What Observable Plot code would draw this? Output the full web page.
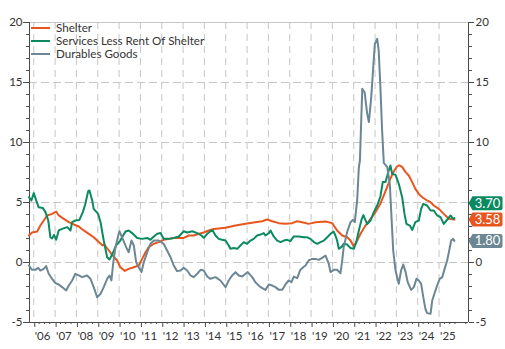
<!DOCTYPE html>
<html><head><meta charset="utf-8">
<script src="https://cdn.jsdelivr.net/npm/d3@7"></script>
<script src="https://cdn.jsdelivr.net/npm/@observablehq/plot@0.6"></script>
<style>
html,body{margin:0;padding:0;background:#fff;}
#wrap{position:relative;width:505px;height:349px;font-family:Lato,sans-serif;}
#legend{position:absolute;left:31px;top:21px;font-size:11.6px;color:#333;}
#legend div{display:flex;align-items:center;height:13.2px;}
#legend span.sw{display:inline-block;width:19px;height:2px;margin-right:6px;}
#legend span.tx{display:inline-block;line-height:13px;height:13px;}
</style></head><body>
<div id="wrap"><div id="chart"></div><div id="legend"></div></div>
<script>
// ---- data (decimal year, % y/y) ----
const seriesNames = ["Shelter", "Services Less Rent Of Shelter", "Durables Goods"];
const seriesColors = ["#e8561f", "#0b8a60", "#6c8794"];

const shelter = [
[2005.77,2.25],[2005.92,2.5],[2006.16,2.58],[2006.31,3.08],[2006.47,3.5],[2006.63,3.92],[2006.86,4.05],
[2007.05,4.25],[2007.17,3.92],[2007.41,3.64],[2007.64,3.36],[2007.88,3.17],[2008.11,3.0],[2008.34,2.67],
[2008.58,2.39],[2008.81,2.1],[2009.05,1.7],[2009.23,1.42],[2009.3,1.5],[2009.52,1.0],[2009.70,0.58],
[2009.91,0.17],[2010.06,-0.4],[2010.27,-0.7],[2010.45,-0.53],[2010.69,-0.39],[2010.92,-0.25],[2011.08,0.3],
[2011.20,0.72],[2011.39,1.28],[2011.63,1.56],[2011.86,1.7],[2012.09,1.89],[2012.33,1.97],[2012.56,2.05],
[2012.80,2.05],[2013.03,2.05],[2013.27,2.25],[2013.50,2.25],[2013.74,2.39],[2013.97,2.5],[2014.20,2.67],
[2014.44,2.8],[2014.99,2.89],[2015.46,3.08],[2015.93,3.22],[2016.39,3.36],[2016.71,3.44],[2016.94,3.58],
[2017.18,3.44],[2017.49,3.28],[2017.80,3.22],[2018.11,3.28],[2018.35,3.44],[2018.58,3.36],[2018.89,3.22],
[2019.21,3.36],[2019.68,3.42],[2019.99,3.28],[2020.22,2.67],[2020.46,2.25],[2020.69,2.1],[2020.85,1.83],
[2021.00,1.33],[2021.16,1.83],[2021.32,2.39],[2021.55,3.08],[2021.79,3.64],[2022.02,4.2],[2022.25,4.9],
[2022.41,5.6],[2022.57,6.3],[2022.72,7.0],[2022.88,7.6],[2023.03,8.0],[2023.13,8.1],[2023.27,7.97],
[2023.43,7.53],[2023.58,7.25],[2023.74,6.7],[2023.89,6.14],[2024.05,5.72],[2024.21,5.44],[2024.44,5.17],
[2024.60,5.03],[2024.75,4.75],[2024.99,4.47],[2025.22,4.05],[2025.46,3.64],[2025.72,3.58]
];

const servicesLessRent = [
[2005.77,5.44],[2005.89,5.17],[2006.0,5.78],[2006.11,5.2],[2006.23,4.6],[2006.42,4.55],[2006.55,4.2],
[2006.68,3.5],[2006.78,2.1],[2006.86,2.0],[2006.95,2.3],[2007.05,1.9],[2007.17,2.67],[2007.33,2.8],
[2007.57,2.95],[2007.72,2.67],[2007.80,3.36],[2007.95,3.5],[2008.14,3.55],[2008.30,4.2],[2008.42,4.9],
[2008.55,5.95],[2008.61,6.0],[2008.74,5.17],[2008.81,4.47],[2009.02,4.05],[2009.13,3.36],[2009.28,1.83],
[2009.44,0.44],[2009.55,0.25],[2009.70,0.75],[2009.86,1.42],[2010.06,1.83],[2010.14,2.1],[2010.30,2.58],
[2010.45,2.67],[2010.61,2.45],[2010.85,2.05],[2011.08,1.97],[2011.32,2.05],[2011.47,1.89],[2011.63,2.17],
[2011.79,2.39],[2011.94,2.45],[2012.09,1.97],[2012.33,1.97],[2012.56,2.05],[2012.80,2.17],[2013.03,2.6],
[2013.19,2.5],[2013.43,2.6],[2013.66,2.45],[2013.86,2.25],[2013.97,2.05],[2014.13,2.39],[2014.28,2.6],
[2014.39,2.67],[2014.52,2.25],[2014.67,1.97],[2014.83,1.89],[2014.99,1.83],[2015.14,1.42],[2015.22,1.14],
[2015.38,1.2],[2015.54,1.14],[2015.69,1.42],[2015.85,1.7],[2016.00,1.56],[2016.16,1.83],[2016.31,1.97],
[2016.47,2.25],[2016.63,2.33],[2016.78,2.45],[2016.86,2.25],[2017.02,2.45],[2017.10,2.67],[2017.25,2.17],
[2017.41,1.83],[2017.57,1.7],[2017.72,1.83],[2017.88,1.89],[2018.03,1.78],[2018.19,2.17],[2018.42,2.17],
[2018.66,2.1],[2018.82,2.1],[2018.97,1.97],[2019.13,1.7],[2019.29,1.56],[2019.44,1.7],[2019.60,1.83],
[2019.76,2.1],[2019.91,2.39],[2020.06,2.58],[2020.14,2.25],[2020.22,1.83],[2020.30,1.14],[2020.43,1.3],
[2020.53,1.56],[2020.69,1.5],[2020.85,1.2],[2021.00,1.14],[2021.12,1.7],[2021.24,2.67],[2021.37,3.6],
[2021.45,3.95],[2021.63,3.2],[2021.79,3.5],[2021.94,4.2],[2022.10,4.75],[2022.25,5.5],[2022.36,6.7],
[2022.49,6.7],[2022.64,7.67],[2022.72,8.08],[2022.80,7.4],[2022.96,7.3],[2023.11,6.56],[2023.27,5.44],
[2023.38,4.05],[2023.47,3.22],[2023.63,3.08],[2023.74,2.72],[2023.89,3.36],[2024.05,3.5],[2024.16,4.47],
[2024.26,4.89],[2024.44,4.75],[2024.60,4.33],[2024.75,4.33],[2024.91,3.92],[2025.07,3.78],[2025.22,3.22],
[2025.35,3.5],[2025.54,3.92],[2025.66,3.64],[2025.72,3.70]
];

const durables = [
[2005.77,-0.25],[2005.92,-0.61],[2006.08,-0.61],[2006.21,-0.44],[2006.31,-0.67],[2006.47,-0.53],[2006.58,-0.3],
[2006.70,-0.94],[2006.86,-1.36],[2007.02,-1.72],[2007.17,-1.83],[2007.33,-2.05],[2007.52,-2.33],[2007.64,-1.92],
[2007.80,-1.5],[2007.95,-0.94],[2008.11,-1.08],[2008.27,-1.22],[2008.50,-1.08],[2008.66,-1.36],[2008.81,-2.05],
[2008.97,-2.89],[2009.13,-2.61],[2009.28,-2.05],[2009.44,-1.36],[2009.55,-1.08],[2009.64,-1.5],[2009.72,-0.11],
[2009.83,1.28],[2009.98,2.39],[2010.02,2.6],[2010.17,1.97],[2010.33,1.28],[2010.45,0.86],[2010.58,1.83],
[2010.69,1.42],[2010.80,0.03],[2010.92,-0.39],[2011.05,-0.8],[2011.16,0.03],[2011.32,0.86],[2011.47,1.56],
[2011.63,1.83],[2011.86,1.83],[2012.09,1.56],[2012.25,1.0],[2012.41,0.44],[2012.56,-0.25],[2012.72,-0.72],
[2012.88,-0.67],[2013.03,-0.44],[2013.19,-0.67],[2013.35,-1.08],[2013.50,-1.22],[2013.66,-0.94],[2013.82,-0.61],
[2013.97,-0.67],[2014.13,-1.17],[2014.28,-1.36],[2014.52,-1.22],[2014.75,-1.5],[2014.99,-2.05],[2015.14,-1.5],
[2015.30,-1.08],[2015.46,-0.8],[2015.61,-1.08],[2015.77,-1.17],[2015.93,-0.94],[2016.03,-0.8],[2016.24,-1.22],
[2016.39,-1.64],[2016.63,-2.05],[2016.86,-2.28],[2017.02,-1.83],[2017.18,-1.92],[2017.33,-2.05],[2017.49,-2.28],
[2017.65,-2.28],[2017.80,-1.83],[2017.95,-1.5],[2018.08,-1.64],[2018.19,-1.17],[2018.35,-1.3],[2018.50,-0.6],
[2018.66,-0.35],[2018.74,-0.25],[2018.89,0.17],[2019.05,0.3],[2019.21,0.3],[2019.36,0.22],[2019.52,0.39],
[2019.68,0.58],[2019.83,-0.11],[2019.91,-0.8],[2020.06,-0.61],[2020.22,-0.61],[2020.38,-0.89],[2020.46,0.17],
[2020.53,1.28],[2020.69,2.53],[2020.85,3.36],[2020.96,3.55],[2021.05,3.36],[2021.16,5.17],[2021.24,7.94],
[2021.29,8.5],[2021.40,14.47],[2021.51,14.19],[2021.63,12.39],[2021.71,11.7],[2021.82,13.78],[2021.91,16.14],
[2021.99,18.22],[2022.10,18.64],[2022.17,17.67],[2022.25,14.6],[2022.33,11.0],[2022.41,8.3],[2022.57,7.94],
[2022.69,6.56],[2022.77,3.78],[2022.85,1.0],[2022.96,-0.67],[2023.11,-1.78],[2023.22,-0.67],[2023.32,-0.17],
[2023.43,-0.78],[2023.53,-1.64],[2023.69,-2.28],[2023.82,-2.05],[2023.94,-1.36],[2024.05,-1.5],[2024.16,-1.78],
[2024.26,-2.89],[2024.36,-3.86],[2024.44,-4.22],[2024.60,-4.28],[2024.68,-3.17],[2024.78,-2.61],[2024.91,-1.92],
[2025.03,-1.36],[2025.15,-1.22],[2025.26,-0.53],[2025.38,0.17],[2025.46,0.86],[2025.57,1.83],[2025.66,1.97],
[2025.72,1.80]
];

const latestValues = [3.58, 3.70, 1.80]; // Shelter, Services, Durables
const yTicks = [-5, 0, 5, 10, 15, 20];
const yTicksRightLabelled = [-5, 0, 10, 15, 20]; // the 5 is covered by the 3.70 tag in the reference
const yearTicks = d3.range(2006, 2026);
const xDomain = [2005.8, 2026.38];

// ---- build ----
const rows = [];
[shelter, servicesLessRent, durables].forEach((s, i) => s.forEach(([t, v]) => rows.push({t, v, name: seriesNames[i]})));

// end labels with simple collision avoidance (in data units)
const labels = latestValues.map((v, i) => ({name: seriesNames[i], value: v, color: seriesColors[i], ly: v}));
const sorted = [...labels].sort((a, b) => a.value - b.value);
for (let i = 1; i < sorted.length; i++) {
  if (sorted[i].ly - sorted[i - 1].ly < 1.35) sorted[i].ly = sorted[i - 1].ly + 1.35;
}

const tag = {
  draw(ctx) {
    const h = 7, r = 2;
    ctx.moveTo(0, 0);
    ctx.lineTo(4, -h);
    ctx.lineTo(34 - r, -h);
    ctx.quadraticCurveTo(34, -h, 34, -h + r);
    ctx.lineTo(34, h - r);
    ctx.quadraticCurveTo(34, h, 34 - r, h);
    ctx.lineTo(4, h);
    ctx.closePath();
  }
};

const minorY = d3.range(-5, 21).filter(d => d % 5 !== 0);
const minorX = d3.range(2006, 2026.3, 0.25).filter(d => d % 1 !== 0);
const fmtY = d => String(d);
const axisColor = "#4a4a4a";

const chart = Plot.plot({
  width: 505,
  height: 349,
  marginLeft: 29,
  marginRight: 37,
  marginTop: 22,
  marginBottom: 27,
  style: {fontFamily: "Lato, sans-serif", fontSize: "11.5px", color: "#333", background: "#fff"},
  x: {type: "linear", domain: xDomain},
  y: {domain: [-5, 20]},
  color: {domain: seriesNames, range: seriesColors},
  marks: [
    Plot.ruleX(yearTicks, {stroke: "#c6c6c6", strokeDasharray: "7,5", strokeWidth: 1}),
    Plot.ruleY([0, 5, 10, 15], {stroke: "#c6c6c6", strokeDasharray: "8,4", strokeWidth: 1}),
    Plot.ruleY([20], {stroke: "#c6c6c6", strokeWidth: 1}),
    Plot.ruleX([xDomain[0], xDomain[1]], {stroke: axisColor, strokeWidth: 1}),
    Plot.ruleY([-5], {stroke: axisColor, strokeWidth: 1}),
    // axes
    Plot.axisY(yTicks, {anchor: "left", tickSize: 6, tickPadding: 1, tickFormat: fmtY, color: "#333", stroke: axisColor, label: null}),
    Plot.axisY(minorY, {anchor: "left", tickSize: 3, text: null, stroke: axisColor, label: null}),
    Plot.axisY(yTicksRightLabelled, {anchor: "right", tickSize: 5, tickPadding: 2, tickFormat: fmtY, color: "#333", stroke: axisColor, label: null}),
    Plot.axisY([5], {anchor: "right", tickSize: 5, text: null, stroke: axisColor, label: null}),
    Plot.axisY(minorY, {anchor: "right", tickSize: 3, text: null, stroke: axisColor, label: null}),
    Plot.axisX(yearTicks, {anchor: "bottom", tickSize: 5, tickPadding: 4, tickFormat: d => "'" + String(d).slice(2), textAnchor: "start", dx: 1, color: "#333", stroke: axisColor, label: null}),
    Plot.axisX(minorX, {anchor: "bottom", tickSize: 2, text: null, stroke: axisColor, label: null}),
    // series
    Plot.line(rows, {x: "t", y: "v", z: "name", stroke: "name", strokeWidth: 2, curve: "linear"}),
    // end tags
    Plot.dot(labels, {x: () => xDomain[1], y: "ly", fill: d => d.color, symbol: tag, stroke: null, r: 5}),
    Plot.text(labels, {x: () => xDomain[1], y: "ly", text: d => d.value.toFixed(2), dx: 19, fill: "white", fontSize: 13, textAnchor: "middle"})
  ]
});
document.getElementById("chart").appendChild(chart);

const legend = document.getElementById("legend");
seriesNames.forEach((n, i) => {
  const row = document.createElement("div");
  row.innerHTML = `<span class="sw" style="background:${seriesColors[i]}"></span><span class="tx">${n}</span>`;
  legend.appendChild(row);
});
</script>
</body></html>
